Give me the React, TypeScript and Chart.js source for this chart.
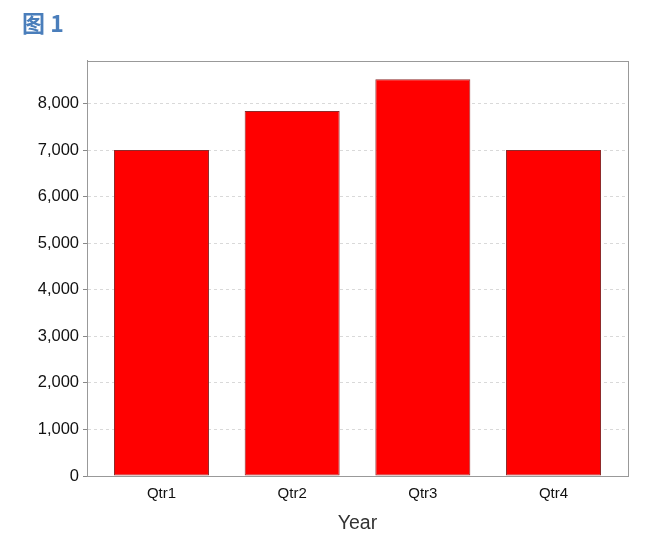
import React, { useEffect, useRef } from 'react';
import { Chart, registerables } from 'chart.js';

Chart.register(...registerables);

const quarters: string[] = ['Qtr1', 'Qtr2', 'Qtr3', 'Qtr4'];
const sales: number[] = [7000, 7840, 8520, 7000];
const yTicks: number[] = [0, 1000, 2000, 3000, 4000, 5000, 6000, 7000, 8000];
const chartTitle = '图 1';
const xTitle = 'Year';

// draws the grey box around the plot area
const framePlugin = {
  id: 'plotFrame',
  afterDatasetsDraw(chart: any) {
    const { ctx, chartArea } = chart;
    ctx.save();
    ctx.setLineDash([]);
    ctx.strokeStyle = '#999999';
    ctx.lineWidth = 1;
    ctx.strokeRect(
      Math.round(chartArea.left) + 0.5,
      Math.round(chartArea.top) + 0.5,
      Math.round(chartArea.right - chartArea.left),
      Math.round(chartArea.bottom - chartArea.top)
    );
    ctx.restore();
  },
};

const App: React.FC = () => {
  const chartRef = useRef<HTMLCanvasElement | null>(null);
  const chartInstance = useRef<Chart | null>(null);

  useEffect(() => {
    if (!chartRef.current) return;
    const ctx = chartRef.current.getContext('2d');
    if (!ctx) return;
    if (chartInstance.current) chartInstance.current.destroy();

    chartInstance.current = new Chart(ctx, {
      type: 'bar',
      data: {
        datasets: [
          {
            label: 'Sales',
            data: sales.map((v, i) => ({ x: i, y: v })),
            backgroundColor: '#ff0000',
            borderColor: '#8e2b2b',
            borderWidth: 1,
            borderSkipped: false,
            categoryPercentage: 1,
            barPercentage: 0.727,
          },
        ],
      },
      options: {
        animation: false,
        responsive: true,
        maintainAspectRatio: false,
        layout: { padding: { left: 22, right: 31, top: 0, bottom: 0 } },
        plugins: {
          legend: { display: false },
          tooltip: { enabled: false },
          title: {
            display: true,
            text: chartTitle,
            align: 'start',
            color: '#4a7ebb',
            font: { family: '"Noto Sans CJK SC", "Liberation Sans", sans-serif', size: 23, weight: 'bold' },
            padding: { top: 9, bottom: 24 },
          },
        },
        scales: {
          x: {
            type: 'linear',
            offset: false,
            min: -0.57,
            max: 3.57,
            grid: { display: false, drawTicks: false },
            border: { display: true, color: '#999999' },
            afterBuildTicks: (scale: any) => {
              scale.ticks = quarters.map((_, i) => ({ value: i }));
            },
            afterFit: (scale: any) => {
              scale.height = 62;
            },
            ticks: {
              autoSkip: false,
              maxRotation: 0,
              padding: 9,
              color: '#111111',
              font: { family: '"Liberation Sans", Arial, sans-serif', size: 15 },
              callback: (value: any) => quarters[Number(value)] ?? '',
            },
            title: {
              display: true,
              text: xTitle,
              color: '#333333',
              font: { family: '"Liberation Sans", Arial, sans-serif', size: 19.5 },
              padding: { top: 0, bottom: 3 },
            },
          },
          y: {
            min: 0,
            max: 8920,
            grid: {
              color: '#d9d9d9',
              tickColor: '#888888',
              tickBorderDash: [],
              tickLength: 4,
            },
            border: { display: true, color: '#999999', dash: [3, 3] },
            afterBuildTicks: (scale: any) => {
              scale.ticks = yTicks.map((v) => ({ value: v }));
            },
            afterFit: (scale: any) => {
              scale.width = 65;
            },
            ticks: {
              padding: 4,
              color: '#111111',
              font: { family: '"Liberation Sans", Arial, sans-serif', size: 16.5 },
              callback: (value: any) => Number(value).toLocaleString('en-US'),
            },
          },
        },
      },
      plugins: [framePlugin],
    });

    return () => {
      if (chartInstance.current) {
        chartInstance.current.destroy();
        chartInstance.current = null;
      }
    };
  }, []);

  return (
    <div style={{ position: 'absolute', left: 0, top: 0, width: 659, height: 538, background: '#ffffff' }}>
      <canvas ref={chartRef}></canvas>
    </div>
  );
};

export default App;
